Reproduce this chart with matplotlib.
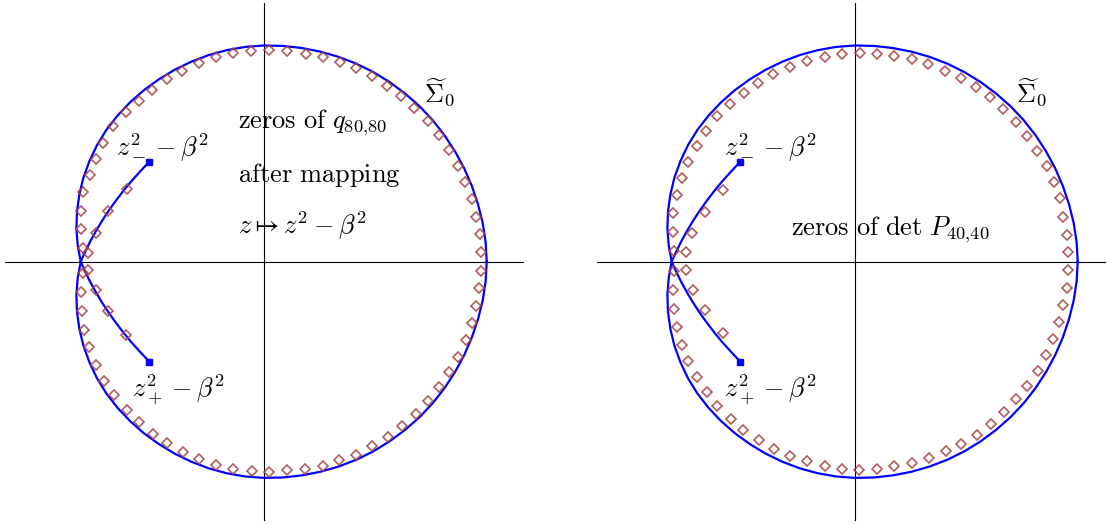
import numpy as np
import matplotlib
matplotlib.use("Agg")
import matplotlib.pyplot as plt

plt.rcParams['mathtext.fontset'] = 'cm'

# Contour Sigma_0 in polar form about the origin: radius at each argument (degrees),
# upper half plane; the lower half is its complex conjugate.
sigma_arg = [0, 5, 10, 15, 20, 25, 30, 35, 40, 45, 50, 55, 60, 65, 70, 75, 80, 85, 90,
             95, 100, 105, 110, 115, 120, 125, 130, 135, 140, 145, 150, 155, 160, 165,
             170, 175, 180]
sigma_r = [2.227, 2.225, 2.221, 2.216, 2.212, 2.209, 2.206, 2.204, 2.202, 2.199,
           2.195, 2.192, 2.189, 2.185, 2.180, 2.175, 2.170, 2.166, 2.162, 2.156,
           2.148, 2.139, 2.128, 2.117, 2.105, 2.094, 2.082, 2.069, 2.055, 2.037,
           2.015, 1.992, 1.965, 1.936, 1.905, 1.870, 1.833]

# Arc from the double point to z_-^2 - beta^2 (its mirror leads to z_+^2 - beta^2)
branch_x = [-1.833, -1.788, -1.739, -1.684, -1.625, -1.560, -1.489, -1.413, -1.331, -1.241, -1.147]
branch_y = [0.00, 0.10, 0.20, 0.30, 0.40, 0.50, 0.60, 0.70, 0.80, 0.90, 1.00]

# Branch points z_-^2 - beta^2 and z_+^2 - beta^2
end_x = [-1.147, -1.147]
end_y = [1.00, -1.00]

# Zeros of q_{80,80} after z -> z^2 - beta^2
q_x = [-1.813, -1.833, -1.833, -1.807, -1.740, -1.683, -1.610, -1.507, -1.383, -1.250,
       -1.117, -0.967, -0.817, -0.650, -0.483, -0.307, -0.133, 0.050, 0.233, 0.417,
       0.593, 0.760, 0.917, 1.077, 1.227, 1.367, 1.500, 1.643, 1.750, 1.850,
       1.943, 2.010, 2.077, 2.117, 2.160, 2.167,
       -1.813, -1.833, -1.823, -1.800, -1.747, -1.680, -1.600, -1.497, -1.373, -1.250,
       -1.113, -0.967, -0.813, -0.647, -0.480, -0.307, -0.123, 0.050, 0.233, 0.410,
       0.587, 0.753, 0.920, 1.083, 1.243, 1.377, 1.517, 1.643, 1.750, 1.850,
       1.937, 2.017, 2.077, 2.117, 2.150, 2.167,
       -1.757, -1.683, -1.563, -1.373,
       -1.757, -1.683, -1.563, -1.380]
q_y = [0.134, 0.327, 0.510, 0.700, 0.867, 1.027, 1.190, 1.360, 1.494, 1.610,
       1.717, 1.824, 1.910, 1.984, 2.044, 2.084, 2.110, 2.117, 2.110, 2.077,
       2.044, 1.994, 1.934, 1.860, 1.760, 1.657, 1.534, 1.410, 1.267, 1.117,
       0.957, 0.800, 0.627, 0.450, 0.277, 0.094,
       -0.113, -0.303, -0.490, -0.680, -0.856, -1.030, -1.190, -1.336, -1.480, -1.603,
       -1.720, -1.813, -1.903, -1.973, -2.030, -2.070, -2.096, -2.106, -2.086, -2.070,
       -2.046, -1.986, -1.930, -1.846, -1.753, -1.640, -1.520, -1.396, -1.253, -1.106,
       -0.953, -0.780, -0.613, -0.440, -0.263, -0.090,
       0.084, 0.290, 0.507, 0.727,
       -0.080, -0.286, -0.490, -0.730]

# Zeros of det P_{40,40}
p_x = [-1.810, -1.823, -1.823, -1.783, -1.733, -1.667, -1.583, -1.490, -1.383, -1.250,
       -1.110, -0.967, -0.817, -0.650, -0.477, -0.300, -0.133, 0.050, 0.223, 0.393,
       0.567, 0.733, 0.900, 1.060, 1.207, 1.350, 1.483, 1.607, 1.723, 1.823,
       1.917, 1.990, 2.050, 2.083, 2.117, 2.133,
       -1.810, -1.817, -1.810, -1.783, -1.733, -1.667, -1.583, -1.483, -1.377, -1.243,
       -1.117, -0.960, -0.810, -0.650, -0.477, -0.300, -0.133, 0.043, 0.223, 0.393,
       0.573, 0.740, 0.907, 1.060, 1.217, 1.357, 1.490, 1.607, 1.723, 1.833,
       1.907, 1.983, 2.040, 2.083, 2.123, 2.133,
       -1.693, -1.627, -1.500, -1.317,
       -1.693, -1.617, -1.500, -1.317]
p_y = [0.110, 0.300, 0.484, 0.667, 0.834, 1.000, 1.160, 1.310, 1.457, 1.574,
       1.690, 1.790, 1.877, 1.950, 2.010, 2.050, 2.077, 2.084, 2.077, 2.057,
       2.024, 1.974, 1.910, 1.834, 1.744, 1.644, 1.527, 1.394, 1.260, 1.110,
       0.957, 0.800, 0.634, 0.450, 0.267, 0.094,
       -0.096, -0.286, -0.470, -0.653, -0.830, -0.996, -1.153, -1.303, -1.440, -1.573,
       -1.686, -1.786, -1.873, -1.940, -1.996, -2.040, -2.070, -2.080, -2.073, -2.046,
       -2.013, -1.963, -1.896, -1.820, -1.730, -1.620, -1.503, -1.373, -1.240, -1.096,
       -0.936, -0.773, -0.603, -0.436, -0.263, -0.086,
       0.100, 0.290, 0.500, 0.717,
       -0.086, -0.286, -0.486, -0.713]

# Closed contour: upper half from the real axis round to the double point, then conjugate
arg = np.deg2rad(np.array(sigma_arg, dtype=float))
rad = np.array(sigma_r)
upper_x, upper_y = rad * np.cos(arg), rad * np.sin(arg)
contour_x = np.concatenate([upper_x, upper_x[::-1]])
contour_y = np.concatenate([upper_y, -upper_y[::-1]])

BLUE = '#0000ff'
ZERO_COLOR = '#a8413f'
FS = 19

fig = plt.figure(figsize=(11.07, 5.25), dpi=100)


def panel(rect, xlim, hbounds, zx, zy, texts):
    ax = fig.add_axes(rect)
    ax.set_xlim(*xlim)
    ax.set_ylim(-2.633, 2.617)
    ax.set_xticks([])
    ax.set_yticks([])
    ax.patch.set_alpha(0)
    for s in ('top', 'right'):
        ax.spines[s].set_visible(False)
    for s in ('left', 'bottom'):
        ax.spines[s].set_position(('data', 0))
        ax.spines[s].set_linewidth(0.8)
    ax.spines['bottom'].set_bounds(*hbounds)
    ax.spines['left'].set_bounds(-2.583, 2.587)

    ax.plot(contour_x, contour_y, color=BLUE, lw=1.6, zorder=3)
    ax.plot(branch_x, branch_y, color=BLUE, lw=1.6, zorder=3)
    ax.plot(branch_x, [-v for v in branch_y], color=BLUE, lw=1.6, zorder=3)
    ax.plot(end_x, end_y, ls='none', marker='s', ms=5, color=BLUE, zorder=5)
    ax.plot(zx, zy, ls='none', marker='D', ms=4.9, mfc='none', mec=ZERO_COLOR,
            mew=1.2, alpha=0.85, zorder=4)
    for x, y, s in texts:
        ax.text(x, y, s, fontsize=FS, ha='left', va='baseline', zorder=6)
    return ax


panel([0, 0, 553 / 1107, 1], (-2.64, 2.89), (-2.59, 2.59), q_x, q_y, [
    (-1.48, 1.067, r'$z_-^2-\beta^2$'),
    (-1.32, -1.353, r'$z_+^2-\beta^2$'),
    (1.60, 1.587, r'$\widetilde{\Sigma}_0$'),
    (-0.265, 1.334, r'$\mathrm{zeros\ of\ }q_{80{,}80}$'),
    (-0.265, 0.80, r'$\mathrm{after\ mapping}$'),
    (-0.265, 0.277, r'$z\mapsto z^2-\beta^2$'),
])

panel([553 / 1107, 0, 554 / 1107, 1], (-3.02, 2.52), (-2.58, 2.50), p_x, p_y, [
    (-1.31, 1.067, r'$z_-^2-\beta^2$'),
    (-1.31, -1.353, r'$z_+^2-\beta^2$'),
    (1.607, 1.587, r'$\widetilde{\Sigma}_0$'),
    (-0.64, 0.267, r'$\mathrm{zeros\ of\ }\det\,P_{40{,}40}$'),
])

fig.savefig('out.png', dpi=100, facecolor='white')
